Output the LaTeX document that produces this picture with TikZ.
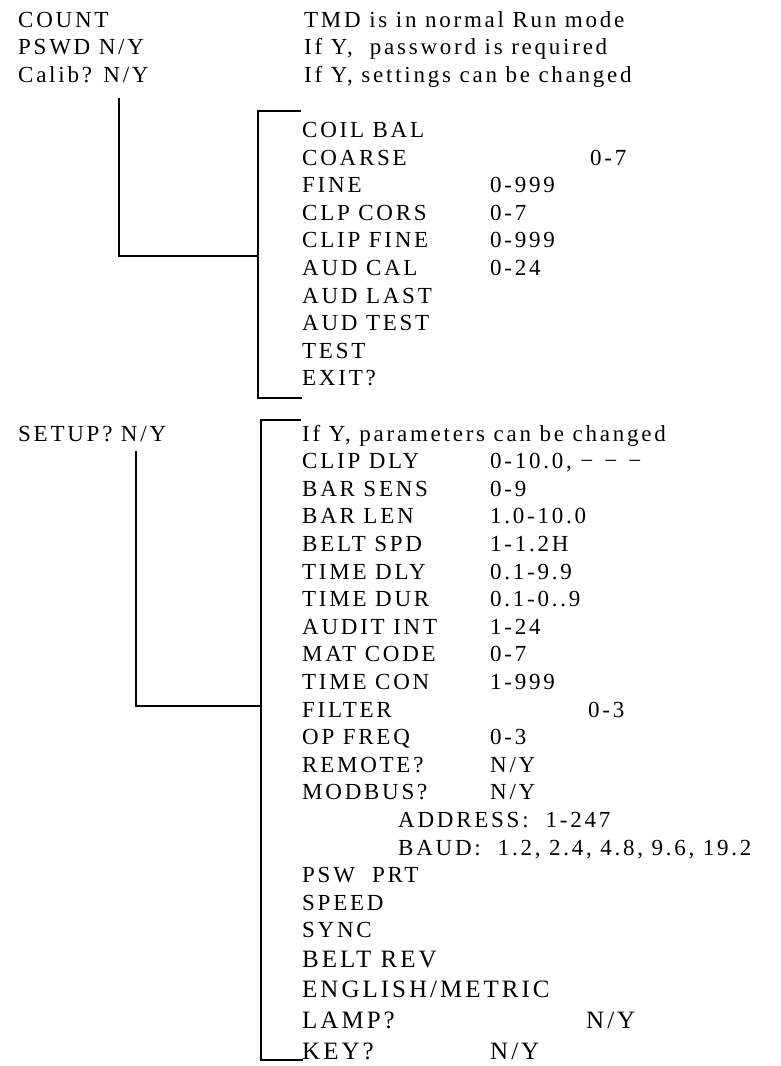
\documentclass[tikz,border=0pt]{standalone}
\usepackage{fontspec}
\setmainfont{Liberation Serif}[LetterSpace=12]
\begin{document}
\begin{tikzpicture}[x=1pt,y=-1pt,
  txt/.style={anchor=base west, inner sep=0pt, font=\fontsize{23}{27}\selectfont},
  big/.style={txt, font=\fontsize{25}{30}\selectfont},
  ln/.style={line width=2.8pt, line cap=rect}]
\useasboundingbox (0,0) rectangle (780,1066);
% top header
\node[txt] (count) at (18,27) {COUNT};
\node[txt] (countd) at (304,27) {TMD is in normal Run mode};
\node[txt] (pswd) at (18,54.6) {PSWD N/Y};
\node[txt] (pswdd) at (304,54.6) {If Y,\ \ password is required};
\node[txt] (calib) at (18,82.2) {Calib? N/Y};
\node[txt] (calibd) at (304,82.2) {If Y, settings can be changed};
% calib list
\node[txt] (c1) at (302,137.4) {COIL BAL};
\node[txt] (c2) at (302,165) {COARSE};
\node[txt] (c2v) at (590,165) {0-7};
\node[txt] (c3) at (302,192.6) {FINE};
\node[txt] (c3v) at (490,192.6) {0-999};
\node[txt] (c4) at (302,220.2) {CLP CORS};
\node[txt] (c4v) at (490,220.2) {0-7};
\node[txt] (c5) at (302,247.8) {CLIP FINE};
\node[txt] (c5v) at (490,247.8) {0-999};
\node[txt] (c6) at (302,275.4) {AUD CAL};
\node[txt] (c6v) at (490,275.4) {0-24};
\node[txt] (c7) at (302,303) {AUD LAST};
\node[txt] (c8) at (302,330.6) {AUD TEST};
\node[txt] (c9) at (302,358.2) {TEST};
\node[txt] (c10) at (302,385.8) {EXIT?};
% setup list
\node[txt] (setup) at (18,441) {SETUP? N/Y};
\node[txt] (s0) at (302,441) {If Y, parameters can be changed};
\node[txt] (s1) at (302,468.6) {CLIP DLY};
\node[txt] (s1v) at (490,468.6) {0-10.0, −\hspace{11pt}−\hspace{11pt}−};
\node[txt] (s2) at (302,496.2) {BAR SENS};
\node[txt] (s2v) at (490,496.2) {0-9};
\node[txt] (s3) at (302,523.8) {BAR LEN};
\node[txt] (s3v) at (490,523.8) {1.0-10.0};
\node[txt] (s4) at (302,551.4) {BELT SPD};
\node[txt] (s4v) at (490,551.4) {1-1.2H};
\node[txt] (s5) at (302,579) {TIME DLY};
\node[txt] (s5v) at (490,579) {0.1-9.9};
\node[txt] (s6) at (302,606.6) {TIME DUR};
\node[txt] (s6v) at (490,606.6) {0.1-0..9};
\node[txt] (s7) at (302,634.2) {AUDIT INT};
\node[txt] (s7v) at (490,634.2) {1-24};
\node[txt] (s8) at (302,661.8) {MAT CODE};
\node[txt] (s8v) at (490,661.8) {0-7};
\node[txt] (s9) at (302,689.4) {TIME CON};
\node[txt] (s9v) at (490,689.4) {1-999};
\node[txt] (s10) at (302,717) {FILTER};
\node[txt] (s10v) at (588,717) {0-3};
\node[txt] (s11) at (302,744.6) {OP FREQ};
\node[txt] (s11v) at (490,744.6) {0-3};
\node[txt] (s12) at (302,772.2) {REMOTE?};
\node[txt] (s12v) at (490,772.2) {N/Y};
\node[txt] (s13) at (302,799.8) {MODBUS?};
\node[txt] (s13v) at (490,799.8) {N/Y};
\node[txt] (s14) at (398,827.4) {ADDRESS:\ \ 1-247};
\node[txt] (s15) at (398,855) {BAUD:\ \ 1.2, 2.4, 4.8, 9.6, 19.2};
\node[txt] (s16) at (302,882.6) {PSW\ \ PRT};
\node[txt] (s17) at (302,910.2) {SPEED};
\node[txt] (s18) at (302,937.8) {SYNC};
\node[big] (s19) at (302,967) {BELT REV};
\node[big] (s20) at (302,997) {ENGLISH/METRIC};
\node[big] (s21) at (302,1028) {LAMP?};
\node[big] (s21v) at (586,1028) {N/Y};
\node[big] (s22) at (302,1059) {KEY?};
\node[big] (s22v) at (490,1059) {N/Y};
% connector coordinates
\coordinate (a0) at (119,99);
\coordinate (aj) at (119,256);
\coordinate (bt) at (258,111);
\coordinate (btr) at (300,111);
\coordinate (bj) at (258,256);
\coordinate (bb) at (258,398);
\coordinate (bbr) at (301,398);
\coordinate (d0) at (136,452);
\coordinate (dj) at (136,706);
\coordinate (et) at (261,420);
\coordinate (etr) at (300,420);
\coordinate (ej) at (261,706);
\coordinate (eb) at (261,1060);
\coordinate (ebr) at (302,1060);
\draw[ln] (a0) -- (aj) -- (bj);
\draw[ln] (btr) -- (bt) -- (bb) -- (bbr);
\draw[ln] (d0) -- (dj) -- (ej);
\draw[ln] (etr) -- (et) -- (eb) -- (ebr);
\end{tikzpicture}
\end{document}
